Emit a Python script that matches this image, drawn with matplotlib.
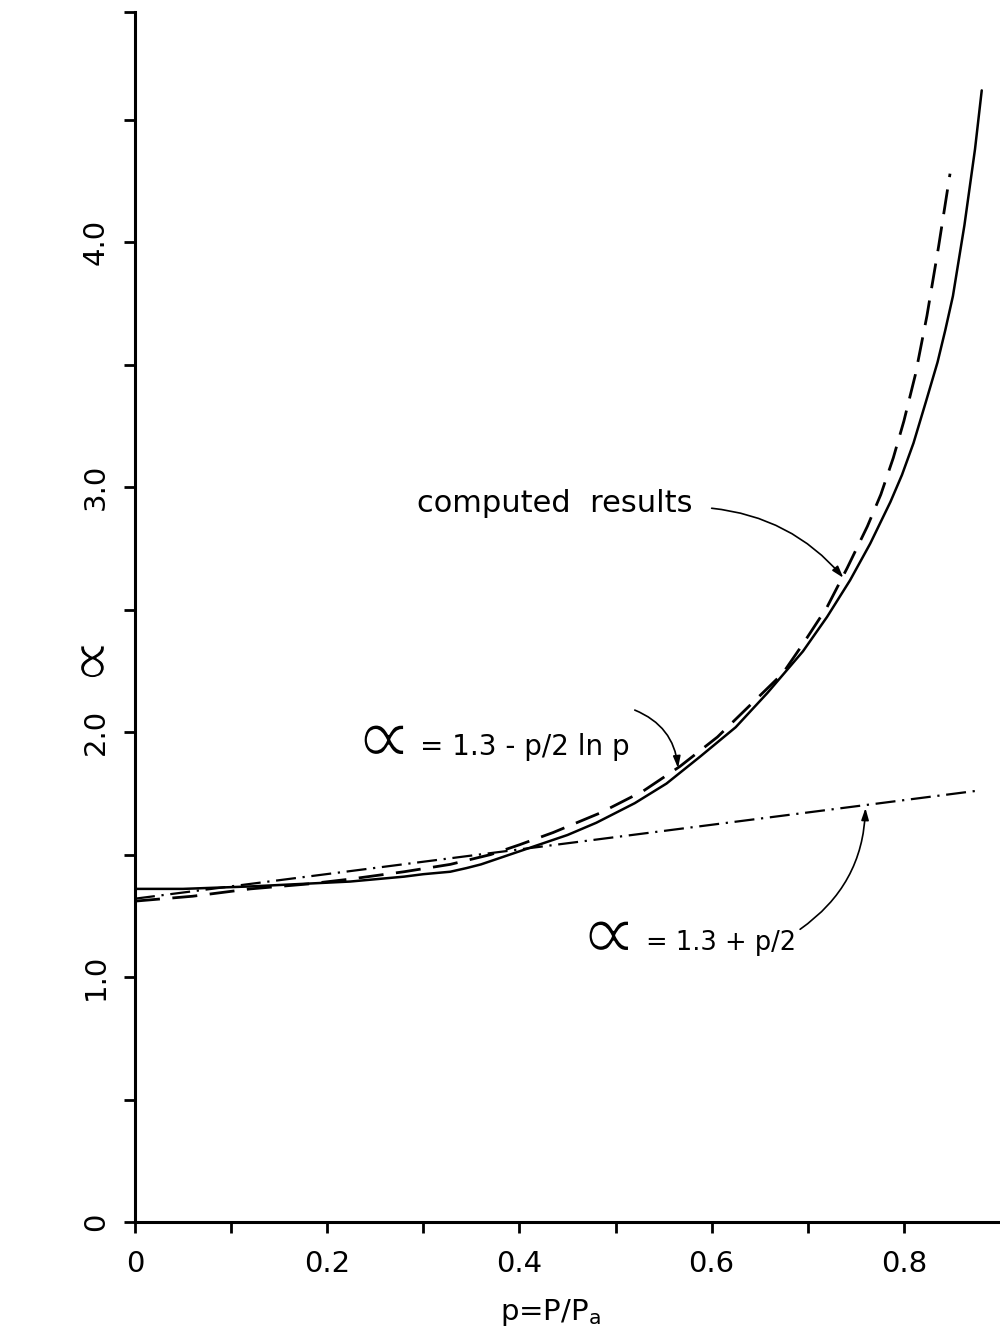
import matplotlib
matplotlib.use('Agg')
import matplotlib.pyplot as plt
import matplotlib.patheffects as pe

# --- data ---
p_computed = [0.0, 0.05, 0.12, 0.224, 0.28, 0.30, 0.328, 0.345, 0.36, 0.39, 0.42, 0.45,
              0.48, 0.52, 0.553, 0.588, 0.625, 0.658, 0.695, 0.72, 0.744, 0.765,
              0.786, 0.798, 0.81, 0.823, 0.835, 0.843, 0.851, 0.863, 0.874, 0.881]
a_computed = [1.36, 1.36, 1.37, 1.39, 1.41, 1.42, 1.43, 1.445, 1.46, 1.50, 1.54, 1.58,
              1.63, 1.71, 1.79, 1.90, 2.02, 2.16, 2.33, 2.47, 2.62, 2.77,
              2.94, 3.05, 3.18, 3.35, 3.51, 3.64, 3.78, 4.07, 4.38, 4.62]

p_fit = [0.0, 0.06, 0.12, 0.18, 0.224, 0.28, 0.328, 0.37, 0.40, 0.435, 0.484, 0.529,
         0.567, 0.606, 0.64, 0.674, 0.695, 0.72, 0.741, 0.762, 0.776, 0.789, 0.80,
         0.812, 0.824, 0.836, 0.848]
a_fit = [1.31, 1.33, 1.36, 1.38, 1.40, 1.43, 1.46, 1.50, 1.54, 1.59, 1.67, 1.76,
         1.86, 1.98, 2.11, 2.24, 2.36, 2.51, 2.67, 2.84, 2.97, 3.12, 3.27,
         3.46, 3.70, 3.98, 4.28]

p_lin = [0.0, 0.875]
a_lin = [1.32, 1.76]

x_ticks = [0.0, 0.1, 0.2, 0.3, 0.4, 0.5, 0.6, 0.7, 0.8]
x_ticklabels = ['0', '', '0.2', '', '0.4', '', '0.6', '', '0.8']
y_ticks = [0.0, 0.5, 1.0, 1.5, 2.0, 2.5, 3.0, 3.5, 4.0, 4.5]
y_ticklabels = ['0', '', '1.0', '', '2.0', '', '3.0', '', '4.0', '']

alpha_sym = '\u221d'
label_computed = 'computed  results'
label_fit = '= 1.3 - p/2 ln p'
label_lin = '= 1.3 + p/2'

plt.rcParams['font.family'] = ['DejaVu Sans']

fig = plt.figure(figsize=(10, 13.26), dpi=100)
ax = fig.add_axes([0.135, 104 / 1326, 0.865, (1222 - 12) / 1326])

ax.plot(p_computed, a_computed, color='black', lw=1.8, solid_capstyle='round',
        solid_joinstyle='round')
ax.plot(p_fit, a_fit, color='black', lw=2.0, dashes=(9, 4.5))
ax.plot(p_lin, a_lin, color='black', lw=1.6, dashes=(9, 3, 1, 3))

ax.set_xlim(0, 0.9)
ax.set_ylim(0, 4.94)

for s in ['top', 'right']:
    ax.spines[s].set_visible(False)
for s in ['left', 'bottom']:
    ax.spines[s].set_linewidth(2.2)

ax.set_xticks(x_ticks)
ax.set_xticklabels(x_ticklabels, fontsize=21)
ax.set_yticks(y_ticks)
ax.set_yticklabels(y_ticklabels, fontsize=21, rotation=90, va='center')
ax.set_yticks([4.94], minor=True)
ax.tick_params(axis='both', which='both', direction='out', length=8, width=2, color='black')
ax.tick_params(axis='x', pad=12)
ax.tick_params(axis='y', pad=10)

# thin the large alpha glyphs slightly: a white outline drawn over the filled glyph
thin_big = [pe.Stroke(linewidth=1.3, foreground='white')]
thin_lab = [pe.Stroke(linewidth=0.9, foreground='white')]

ax.set_xlabel('p=P/P$_{\\mathregular{a}}$', fontsize=21)
ax.xaxis.set_label_coords(0.48, -0.062)
ylab = ax.set_ylabel(alpha_sym, fontsize=46, rotation=90)
ylab.set_path_effects(thin_lab)
ax.yaxis.set_label_coords(-0.012, 0.463)

ax.text(0.293, 2.935, label_computed, fontsize=22, ha='left', va='center')

ax.text(0.229, 1.96, alpha_sym, fontsize=58, ha='left', va='center', path_effects=thin_big)
ax.text(0.297, 1.94, label_fit, fontsize=20, ha='left', va='center')
ax.text(0.463, 1.16, alpha_sym, fontsize=58, ha='left', va='center', path_effects=thin_big)
ax.text(0.532, 1.14, label_lin, fontsize=18.5, ha='left', va='center')

arrow_kw = dict(arrowstyle='-|>,head_length=0.7,head_width=0.22', color='black', lw=1.2,
                shrinkA=0, shrinkB=0)
ax.annotate('', xy=(0.737, 2.63), xytext=(0.600, 2.914),
            arrowprops=dict(connectionstyle='arc3,rad=-0.2', **arrow_kw))
ax.annotate('', xy=(0.565, 1.853), xytext=(0.520, 2.09),
            arrowprops=dict(connectionstyle='arc3,rad=-0.3', **arrow_kw))
ax.annotate('', xy=(0.760, 1.69), xytext=(0.692, 1.195),
            arrowprops=dict(connectionstyle='arc3,rad=0.25', **arrow_kw))

fig.savefig('out.png', dpi=100, facecolor='white')
